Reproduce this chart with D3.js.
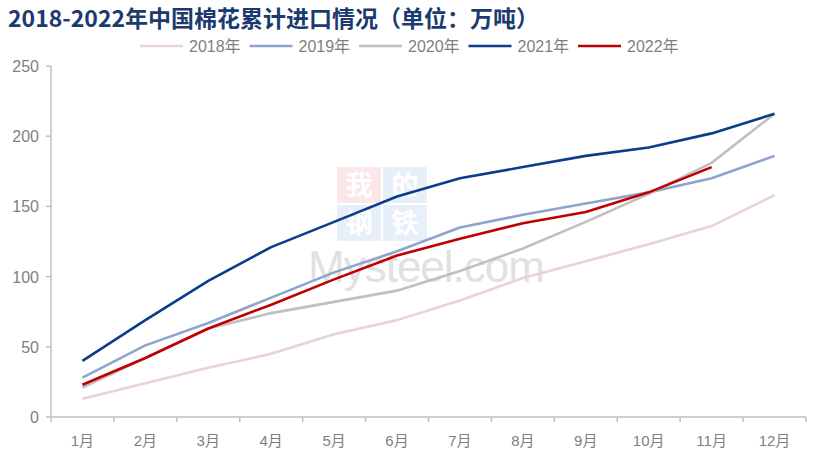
<!DOCTYPE html>
<html><head><meta charset="utf-8">
<script src="https://cdn.jsdelivr.net/npm/d3@7"></script>
<style>body{margin:0;background:#fff}svg{display:block}</style>
</head><body>
<svg id="c" width="816" height="461"></svg>
<script>
const months = ["1月","2月","3月","4月","5月","6月","7月","8月","9月","10月","11月","12月"];
const years = ["2018年","2019年","2020年","2021年","2022年"];
const v2018 = [13, 24, 35, 45, 59, 69, 83, 99, 111, 123, 136, 158];
const v2019 = [28, 51, 67, 85, 103, 118, 135, 144, 152, 160, 170, 186];
const v2020 = [21, 42, 63, 74, 82, 90, 104, 120, 139, 159, 181, 216];
const v2021 = [40, 69, 97, 121, 139, 157, 170, 178, 186, 192, 202, 216];
const v2022 = [23, 42, 63, 80, 98, 115, 127, 138, 146, 160, 178];
const yTicks = [0, 50, 100, 150, 200, 250];
const colors = ["#E8D3D5", "#8DA5CC", "#C0C0C0", "#0A3D8A", "#C00000"];

const series = [v2018, v2019, v2020, v2021, v2022];
const svg = d3.select("#c");
const font = "'Liberation Sans', Arial, 'Noto Sans CJK SC', sans-serif";

// title
svg.append("text").attr("x", 8).attr("y", 27)
  .attr("font-family", "'Noto Sans CJK SC', sans-serif").attr("font-weight", "bold")
  .attr("font-size", 23).attr("fill", "#1B3A6E")
  .text("2018-2022年中国棉花累计进口情况（单位：万吨）");

const x = d3.scaleBand().domain(months).range([51, 806]);
const y = d3.scaleLinear().domain([0, 250]).range([417, 66]);

// watermark
const wm = svg.append("g").attr("opacity", 0.45);
const wmCells = [["我", 337, 167, "#F3A9AE"], ["的", 383, 167, "#A9C4E6"], ["钢", 337, 205, "#A9C4E6"], ["铁", 383, 205, "#A9C4E6"]];
wmCells.forEach(d => {
  wm.append("rect").attr("x", d[1]).attr("y", d[2]).attr("width", 44).attr("height", 36).attr("fill", d[3]).attr("opacity", 0.6);
  wm.append("text").attr("x", d[1] + 22).attr("y", d[2] + 28).attr("text-anchor", "middle")
    .attr("font-family", "'Noto Sans CJK SC', sans-serif").attr("font-weight", "bold")
    .attr("font-size", 27).attr("fill", "#fff").text(d[0]);
});
wm.append("text").attr("x", 308).attr("y", 282).attr("font-family", font)
  .attr("font-size", 44).attr("fill", "#BDBDBD").attr("letter-spacing", -1).text("Mysteel.com");

// axes
const gx = svg.append("g").attr("transform", "translate(0,417)");
gx.append("line").attr("x1", 51).attr("x2", 806).attr("stroke", "#BFBFBF").attr("stroke-width", 1.5);
const bounds = months.map(m => x(m)).concat([x.range()[1]]);
gx.selectAll("line.t").data(bounds).join("line").attr("class", "t")
  .attr("x1", d => d).attr("x2", d => d).attr("y1", 0).attr("y2", 5)
  .attr("stroke", "#BFBFBF").attr("stroke-width", 1.5);
gx.selectAll("text").data(months).join("text")
  .attr("x", d => x(d) + x.bandwidth() / 2).attr("y", 29).attr("text-anchor", "middle")
  .attr("font-family", font).attr("font-size", 15).attr("fill", "#7F7F7F").text(d => d);

const gy = svg.append("g");
gy.append("line").attr("x1", 51).attr("x2", 51).attr("y1", y(250)).attr("y2", 417)
  .attr("stroke", "#BFBFBF").attr("stroke-width", 1.5);
gy.selectAll("line.t").data(yTicks).join("line").attr("class", "t")
  .attr("x1", 46).attr("x2", 51).attr("y1", d => y(d)).attr("y2", d => y(d))
  .attr("stroke", "#BFBFBF").attr("stroke-width", 1.5);
gy.selectAll("text").data(yTicks).join("text")
  .attr("x", 39).attr("y", d => y(d) + 6).attr("text-anchor", "end")
  .attr("font-family", font).attr("font-size", 16).attr("fill", "#7F7F7F").text(d => d);

// lines
const line = d3.line().x((d, i) => x(months[i]) + x.bandwidth() / 2).y(d => y(d));
series.forEach((s, k) => {
  svg.append("path").datum(s).attr("d", line).attr("fill", "none")
    .attr("stroke", colors[k]).attr("stroke-width", 2.6).attr("stroke-linejoin", "round");
});

// legend
const lg = svg.append("g");
years.forEach((yr, k) => {
  const x0 = 140 + k * 109.5;
  lg.append("line").attr("x1", x0).attr("x2", x0 + 43).attr("y1", 46).attr("y2", 46)
    .attr("stroke", colors[k]).attr("stroke-width", 2.6);
  lg.append("text").attr("x", x0 + 49).attr("y", 52).attr("font-family", font)
    .attr("font-size", 16).attr("fill", "#7F7F7F").text(yr);
});
</script>
</body></html>
